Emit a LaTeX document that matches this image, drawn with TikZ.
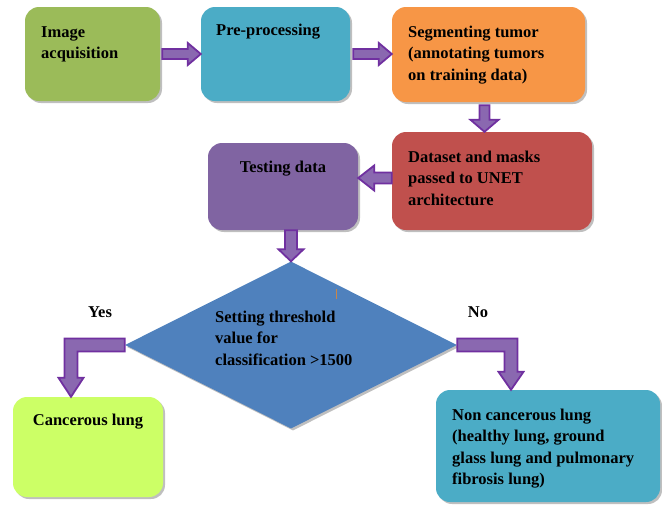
\documentclass[tikz,border=0pt]{standalone}
\usepackage{fontspec}
\setmainfont{Liberation Serif}
\usetikzlibrary{calc,shapes.geometric,shadows}
\definecolor{cgreen}{HTML}{9BBB59}
\definecolor{cblue}{HTML}{4BACC6}
\definecolor{corange}{HTML}{F79646}
\definecolor{cred}{HTML}{C0504D}
\definecolor{cpurple}{HTML}{8064A2}
\definecolor{cdiam}{HTML}{4F81BD}
\definecolor{clime}{HTML}{CCFF66}
\definecolor{aline}{HTML}{7030A0}
\definecolor{afill}{HTML}{8A68B0}
\definecolor{ctick}{HTML}{C8864A}
\tikzset{
  shad/.style={drop shadow={shadow xshift=2pt,shadow yshift=-2pt,opacity=0.25,fill=black}},
  box/.style={rounded corners=14pt, inner sep=0pt, draw=none, shad},
  txt/.style={font=\rmfamily\bfseries\fontsize{16.5}{21.3}\selectfont, align=left, inner sep=0pt, anchor=north west},
  lbl/.style={font=\rmfamily\bfseries\fontsize{16.5}{21.3}\selectfont, inner sep=0pt, anchor=base},
  barr/.style={draw=aline, fill=afill, line width=1.8pt, line join=miter},
}
% horizontal block arrow: #1 start, #2 end, #3 half shaft, #4 half head, #5 head length, #6 direction (1 or -1)
\newcommand\harr[6]{\draw[barr] let \p1=(#1), \p2=(#2) in
  (\x1,{\y1+#3}) -- ({\x2-#6*#5},{\y1+#3}) -- ({\x2-#6*#5},{\y1+#4}) -- (\x2,\y1)
  -- ({\x2-#6*#5},{\y1-#4}) -- ({\x2-#6*#5},{\y1-#3}) -- (\x1,{\y1-#3}) -- cycle;}
% vertical (downward) block arrow
\newcommand\varr[5]{\draw[barr] let \p1=(#1), \p2=(#2) in
  ({\x1+#3},\y1) -- ({\x1+#3},{\y2+#5}) -- ({\x1+#4},{\y2+#5}) -- (\x1,\y2)
  -- ({\x1-#4},{\y2+#5}) -- ({\x1-#3},{\y2+#5}) -- ({\x1-#3},\y1) -- cycle;}
% elbow arrow: horizontal from start, then down to end; #6 = direction
\newcommand\earr[6]{\draw[barr] let \p1=(#1), \p2=(#2) in
  (\x1,{\y1+#3}) -- ({\x2+#6*#3},{\y1+#3}) -- ({\x2+#6*#3},{\y2+#5}) -- ({\x2+#6*#4},{\y2+#5})
  -- (\x2,\y2) -- ({\x2-#6*#4},{\y2+#5}) -- ({\x2-#6*#3},{\y2+#5}) -- ({\x2-#6*#3},{\y1-#3})
  -- (\x1,{\y1-#3}) -- cycle;}
\begin{document}
\begin{tikzpicture}[x=1pt,y=-1pt]
\useasboundingbox (0,0) rectangle (662,504);
% boxes
\node[box, fill=cgreen, minimum width=135pt, minimum height=94pt] (b1) at (92.5,54) {};
\node[box, fill=cblue, minimum width=149pt, minimum height=94pt] (b2) at (275.5,54) {};
\node[box, fill=corange, minimum width=193pt, minimum height=95pt] (b3) at (488.5,54.5) {};
\node[box, fill=cred, minimum width=200pt, minimum height=98pt] (b4) at (492,181) {};
\node[box, fill=cpurple, minimum width=150pt, minimum height=87pt] (b5) at (283,186.5) {};
\node[diamond, fill=cdiam, inner sep=0pt, minimum width=332pt, minimum height=167pt, shad] (d) at (291,345) {};
\node[box, fill=clime, minimum width=150pt, minimum height=100pt] (b6) at (88,447) {};
\node[box, fill=cblue, minimum width=224pt, minimum height=112pt] (b7) at (548,446) {};
% texts
\node[txt] (t1) at (41,26) {Image\\acquisition};
\node[txt] (t2) at (216,24) {Pre-processing};
\node[txt] (t3) at (408,26) {Segmenting tumor\\(annotating tumors\\on training data)};
\node[txt] (t4) at (408,151) {Dataset and masks\\passed to UNET\\architecture};
\node[lbl] (t5) at (283,172) {Testing data};
\node[txt] (t6) at (215,311) {Setting threshold\\value for\\classification >1500};
\node[lbl] (yes) at (100,317) {Yes};
\node[lbl] (no) at (478,317) {No};
\node[lbl] (t7) at (88,425) {Cancerous lung};
\node[txt] (t8) at (452,409) {Non cancerous lung\\(healthy lung, ground\\glass lung and pulmonary\\fibrosis lung)};
% small stray tick
\coordinate (tk1) at (336,289);
\coordinate (tk2) at (336,299);
\draw[ctick, line width=1pt] (tk1) -- (tk2);
% arrows
\harr{$(b1.east)+(2,0)$}{b2.west}{5pt}{11pt}{13pt}{1}
\harr{$(b2.east)+(3,0)$}{b3.west}{5pt}{11pt}{13pt}{1}
\varr{$(b3.south)+(-4,3)$}{b4.north}{5pt}{14pt}{12pt}
\harr{$(b4.west)+(0,-3)$}{b5.east}{5.5pt}{12.5pt}{16pt}{-1}
\varr{d.north |- b5.south}{d.north}{6pt}{12.5pt}{12pt}
\earr{d.west}{$(b6.north)+(-17,0)$}{6.5pt}{12.5pt}{19pt}{-1}
\earr{d.east}{$(b7.north)+(-37,0)$}{6.5pt}{12.5pt}{18pt}{1}
\end{tikzpicture}
\end{document}
